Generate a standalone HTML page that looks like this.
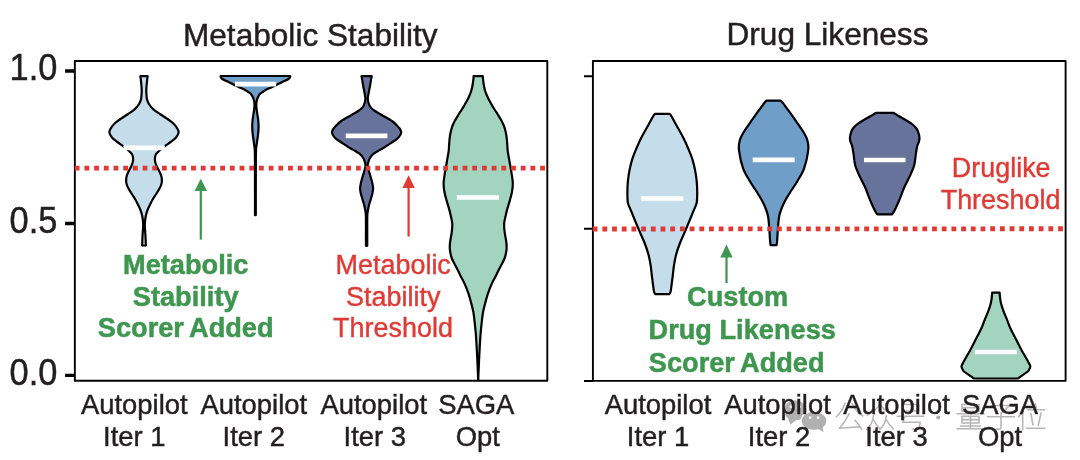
<!DOCTYPE html>
<html><head><meta charset="utf-8">
<style>
html,body{margin:0;padding:0;background:#fff;}
body{width:1080px;height:460px;overflow:hidden;font-family:"Liberation Sans",sans-serif;}
svg{display:block;will-change:transform;}
text{font-family:"Liberation Sans",sans-serif;}
.t{fill:#231f20;stroke:#231f20;stroke-width:.45;}
.g{fill:#3f9650;stroke:#3f9650;stroke-width:.5;font-weight:bold;}
.r{fill:#de3a36;stroke:#de3a36;stroke-width:.4;}
.v{stroke:#000;stroke-width:2.2;stroke-linejoin:round;}
.m{stroke:#fff;stroke-width:4.7;}
.ax{stroke:#000;stroke-width:1.9;fill:none;stroke-linejoin:round;}
</style></head><body>
<svg width="1080" height="460" viewBox="0 0 1080 460">
<rect width="1080" height="460" fill="#fff"/>

<!-- watermark -->
<g id="wm">
<g fill="#b0b0b0" stroke="none">
<ellipse cx="795.2" cy="410.4" rx="11.2" ry="10.2"/>
<path d="M787.5,416.5 L790.3,424.8 L796.5,419.5 Z"/>
<ellipse cx="814" cy="420.8" rx="13.6" ry="10.3" fill="#fff"/>
<ellipse cx="814" cy="420.8" rx="12.3" ry="9"/>
<path d="M817.5,428.5 L823.6,432 L822.3,425.5 Z"/>
<circle cx="810.2" cy="417.6" r="1.35" fill="#fff"/><circle cx="818.1" cy="417.6" r="1.35" fill="#fff"/>
<circle cx="791.3" cy="406.8" r="1.5" fill="#fff"/><circle cx="799.6" cy="406.8" r="1.5" fill="#fff"/>
<circle cx="938.2" cy="417.6" r="2"/>
</g>
<g fill="none" stroke="#b6b6b6" stroke-width="1.6" stroke-linecap="round" stroke-linejoin="round">
<g transform="translate(834.5,401)"><path d="M10.5,2.3 C8.5,8 5.5,12.5 1.6,16 M17.5,2.3 C20,8 24,12.5 28.3,15 M14.7,12.5 C12,18.5 8.5,23.5 4.9,27.2 L25,25.8 M20.5,19.2 C23,22 25.5,25.3 27.2,28.4"/></g>
<g transform="translate(865,401)"><path d="M15,2.5 C12.5,7.5 8,11.5 2.5,14 M15,2.5 C17.5,7.5 22,11.5 27.8,13.5 M8.5,14.5 C8,20 5.5,25 1.8,28.2 M8.3,18.5 C10,22 12.2,25 14.5,27.5 M21.3,14.5 C21,20 18.5,25 15,28.2 M21.2,18.5 C23,22 25.5,25.5 28.3,27.8"/></g>
<g transform="translate(895.7,401)"><path d="M7,3.5 H23 V10 H7 Z M1.5,15.3 H28 M9,15.5 L7.2,21.2 H24.5 C24.2,25 23.5,27 22.3,28.2 L16.5,27.8"/></g>
<g transform="translate(955.5,401)"><path d="M6.5,3.5 H23.5 V10.2 H6.5 Z M6.5,6.8 H23.5 M1.5,12.8 H28.5 M6.5,15.3 H23.5 V22 H6.5 Z M6.5,18.6 H23.5 M15,15.3 V27.8 M5,25 H25 M1.5,27.8 H28.5"/></g>
<g transform="translate(986,401)"><path d="M5.5,4.5 H23.5 C21,7.5 18.5,9.8 15,12 V26.5 C15,28 14,28.3 10,28 M1.5,15.8 H28.5"/></g>
<g transform="translate(1016.7,401)"><path d="M9,2.8 C7.5,8 5,12.5 1.8,16 M6,11 V28.5 M18.5,2.8 L19.5,7 M11,8.8 H27.8 M14.2,12.5 L16.3,24 M24.3,12 L21.5,24.5 M9.8,27.3 H28.3"/></g>
</g>
</g>

<!-- titles -->
<text class="t" x="310.3" y="46.3" font-size="31.6" text-anchor="middle">Metabolic Stability</text>
<text class="t" x="827.5" y="45.2" font-size="31.6" text-anchor="middle">Drug Likeness</text>

<!-- y tick labels -->
<text class="t" transform="translate(57.3,80.1) scale(.955,1.012)" font-size="36" text-anchor="end">1.0</text>
<text class="t" transform="translate(57.3,232.7) scale(.955,1.012)" font-size="36" text-anchor="end">0.5</text>
<text class="t" transform="translate(57.3,384.7) scale(.955,1.012)" font-size="36" text-anchor="end">0.0</text>

<!-- LEFT violins -->
<g id="L">
<path class="v" fill="#c5dcea" d="M147.60,76.20 C147.48,77.17 147.12,79.77 146.90,82.00 C146.68,84.23 146.37,87.43 146.30,89.60 C146.23,91.77 146.38,93.37 146.50,95.00 C146.62,96.63 146.60,97.90 147.00,99.40 C147.40,100.90 147.87,102.38 148.90,104.00 C149.93,105.62 151.37,107.43 153.20,109.10 C155.03,110.77 157.53,112.37 159.90,114.00 C162.27,115.63 165.23,117.40 167.40,118.90 C169.57,120.40 171.43,121.68 172.90,123.00 C174.37,124.32 175.33,125.63 176.20,126.80 C177.07,127.97 177.70,129.10 178.10,130.00 C178.50,130.90 178.67,131.37 178.60,132.20 C178.53,133.03 178.28,133.95 177.70,135.00 C177.12,136.05 176.27,137.33 175.10,138.50 C173.93,139.67 172.43,140.70 170.70,142.00 C168.97,143.30 166.47,144.97 164.70,146.30 C162.93,147.63 161.53,148.70 160.10,150.00 C158.67,151.30 156.93,152.93 156.10,154.10 C155.27,155.27 155.30,156.05 155.10,157.00 C154.90,157.95 154.83,158.80 154.90,159.80 C154.97,160.80 155.13,161.80 155.50,163.00 C155.87,164.20 156.40,165.50 157.10,167.00 C157.80,168.50 159.00,170.50 159.70,172.00 C160.40,173.50 160.93,174.60 161.30,176.00 C161.67,177.40 161.93,178.90 161.90,180.40 C161.87,181.90 161.55,183.57 161.10,185.00 C160.65,186.43 159.97,187.58 159.20,189.00 C158.43,190.42 157.55,191.83 156.50,193.50 C155.45,195.17 154.00,197.08 152.90,199.00 C151.80,200.92 150.79,203.17 149.90,205.00 C149.01,206.83 148.20,208.33 147.55,210.00 C146.90,211.67 146.40,213.33 146.00,215.00 C145.60,216.67 145.35,218.33 145.15,220.00 C144.95,221.67 144.82,223.33 144.80,225.00 C144.78,226.67 144.95,228.33 145.05,230.00 C145.15,231.67 145.30,233.33 145.40,235.00 C145.50,236.67 145.58,238.33 145.65,240.00 C145.72,241.67 145.82,244.08 145.85,245.00 C145.88,245.92 145.85,245.42 145.85,245.50 L142.15,245.50 C142.15,245.42 142.12,245.92 142.15,245.00 C142.18,244.08 142.28,241.67 142.35,240.00 C142.42,238.33 142.50,236.67 142.60,235.00 C142.70,233.33 142.85,231.67 142.95,230.00 C143.05,228.33 143.22,226.67 143.20,225.00 C143.18,223.33 143.05,221.67 142.85,220.00 C142.65,218.33 142.40,216.67 142.00,215.00 C141.60,213.33 141.10,211.67 140.45,210.00 C139.80,208.33 138.99,206.83 138.10,205.00 C137.21,203.17 136.20,200.92 135.10,199.00 C134.00,197.08 132.55,195.17 131.50,193.50 C130.45,191.83 129.57,190.42 128.80,189.00 C128.03,187.58 127.35,186.43 126.90,185.00 C126.45,183.57 126.13,181.90 126.10,180.40 C126.07,178.90 126.33,177.40 126.70,176.00 C127.07,174.60 127.60,173.50 128.30,172.00 C129.00,170.50 130.20,168.50 130.90,167.00 C131.60,165.50 132.13,164.20 132.50,163.00 C132.87,161.80 133.03,160.80 133.10,159.80 C133.17,158.80 133.10,157.95 132.90,157.00 C132.70,156.05 132.73,155.27 131.90,154.10 C131.07,152.93 129.33,151.30 127.90,150.00 C126.47,148.70 125.07,147.63 123.30,146.30 C121.53,144.97 119.03,143.30 117.30,142.00 C115.57,140.70 114.07,139.67 112.90,138.50 C111.73,137.33 110.88,136.05 110.30,135.00 C109.72,133.95 109.47,133.03 109.40,132.20 C109.33,131.37 109.50,130.90 109.90,130.00 C110.30,129.10 110.93,127.97 111.80,126.80 C112.67,125.63 113.63,124.32 115.10,123.00 C116.57,121.68 118.43,120.40 120.60,118.90 C122.77,117.40 125.73,115.63 128.10,114.00 C130.47,112.37 132.97,110.77 134.80,109.10 C136.63,107.43 138.07,105.62 139.10,104.00 C140.13,102.38 140.60,100.90 141.00,99.40 C141.40,97.90 141.38,96.63 141.50,95.00 C141.62,93.37 141.77,91.77 141.70,89.60 C141.63,87.43 141.32,84.23 141.10,82.00 C140.88,79.77 140.52,77.17 140.40,76.20 Z"/>
<path class="v" fill="#6f9fc8" d="M289.50,76.00 C289.62,76.03 290.18,75.90 290.20,76.20 C290.22,76.50 289.95,77.28 289.60,77.80 C289.25,78.32 289.33,78.60 288.10,79.30 C286.87,80.00 283.85,81.22 282.20,82.00 C280.55,82.78 279.53,83.33 278.20,84.00 C276.87,84.67 275.58,85.33 274.20,86.00 C272.82,86.67 271.32,87.33 269.90,88.00 C268.48,88.67 266.93,89.33 265.70,90.00 C264.47,90.67 263.47,91.33 262.50,92.00 C261.53,92.67 260.60,93.25 259.90,94.00 C259.20,94.75 258.75,95.67 258.30,96.50 C257.85,97.33 257.50,98.08 257.20,99.00 C256.90,99.92 256.65,101.00 256.50,102.00 C256.35,103.00 256.27,103.67 256.30,105.00 C256.33,106.33 256.53,108.52 256.70,110.00 C256.87,111.48 257.05,112.23 257.30,113.90 C257.55,115.57 257.98,117.72 258.20,120.00 C258.42,122.28 258.63,125.10 258.60,127.60 C258.57,130.10 258.30,132.38 258.00,135.00 C257.70,137.62 257.10,141.13 256.80,143.30 C256.50,145.47 256.33,146.72 256.20,148.00 C256.07,149.28 256.06,149.00 256.00,151.00 C255.94,153.00 255.88,153.50 255.85,160.00 C255.82,166.50 255.81,180.80 255.80,190.00 C255.79,199.20 255.80,211.00 255.80,215.20 L255.00,215.20 C255.00,211.00 255.01,199.20 255.00,190.00 C254.99,180.80 254.98,166.50 254.95,160.00 C254.92,153.50 254.86,153.00 254.80,151.00 C254.74,149.00 254.73,149.28 254.60,148.00 C254.47,146.72 254.30,145.47 254.00,143.30 C253.70,141.13 253.10,137.62 252.80,135.00 C252.50,132.38 252.23,130.10 252.20,127.60 C252.17,125.10 252.38,122.28 252.60,120.00 C252.82,117.72 253.25,115.57 253.50,113.90 C253.75,112.23 253.93,111.48 254.10,110.00 C254.27,108.52 254.47,106.33 254.50,105.00 C254.53,103.67 254.45,103.00 254.30,102.00 C254.15,101.00 253.90,99.92 253.60,99.00 C253.30,98.08 252.95,97.33 252.50,96.50 C252.05,95.67 251.60,94.75 250.90,94.00 C250.20,93.25 249.27,92.67 248.30,92.00 C247.33,91.33 246.33,90.67 245.10,90.00 C243.87,89.33 242.32,88.67 240.90,88.00 C239.48,87.33 237.98,86.67 236.60,86.00 C235.22,85.33 233.93,84.67 232.60,84.00 C231.27,83.33 230.25,82.78 228.60,82.00 C226.95,81.22 223.93,80.00 222.70,79.30 C221.47,78.60 221.55,78.32 221.20,77.80 C220.85,77.28 220.58,76.50 220.60,76.20 C220.62,75.90 221.18,76.03 221.30,76.00 Z"/>
<path class="v" fill="#67739a" d="M371.70,76.20 C371.55,77.00 371.08,79.37 370.80,81.00 C370.52,82.63 370.30,84.33 370.00,86.00 C369.70,87.67 369.32,89.33 369.00,91.00 C368.68,92.67 368.30,94.67 368.10,96.00 C367.90,97.33 367.75,97.92 367.80,99.00 C367.85,100.08 368.07,101.33 368.40,102.50 C368.73,103.67 369.23,105.00 369.80,106.00 C370.37,107.00 370.93,107.67 371.80,108.50 C372.67,109.33 373.78,110.17 375.00,111.00 C376.22,111.83 377.38,112.50 379.10,113.50 C380.82,114.50 383.03,115.67 385.30,117.00 C387.57,118.33 390.83,120.17 392.70,121.50 C394.57,122.83 395.42,123.92 396.50,125.00 C397.58,126.08 398.50,127.08 399.20,128.00 C399.90,128.92 400.37,129.77 400.70,130.50 C401.03,131.23 401.32,131.57 401.20,132.40 C401.08,133.23 400.70,134.42 400.00,135.50 C399.30,136.58 398.50,137.65 397.00,138.90 C395.50,140.15 393.17,141.55 391.00,143.00 C388.83,144.45 386.17,146.27 384.00,147.60 C381.83,148.93 379.82,149.92 378.00,151.00 C376.18,152.08 374.38,153.02 373.10,154.10 C371.82,155.18 371.02,156.40 370.30,157.50 C369.58,158.60 369.23,159.42 368.80,160.70 C368.37,161.98 367.73,163.65 367.70,165.20 C367.67,166.75 368.15,168.18 368.60,170.00 C369.05,171.82 369.82,174.10 370.40,176.10 C370.98,178.10 371.65,180.02 372.10,182.00 C372.55,183.98 373.03,186.17 373.10,188.00 C373.17,189.83 372.85,191.25 372.50,193.00 C372.15,194.75 371.53,196.67 371.00,198.50 C370.47,200.33 369.78,202.17 369.30,204.00 C368.82,205.83 368.42,207.83 368.10,209.50 C367.78,211.17 367.54,212.25 367.40,214.00 C367.26,215.75 367.27,216.50 367.25,220.00 C367.23,223.50 367.25,230.70 367.25,235.00 C367.25,239.30 367.25,244.00 367.25,245.80 L365.95,245.80 C365.95,244.00 365.95,239.30 365.95,235.00 C365.95,230.70 365.98,223.50 365.95,220.00 C365.93,216.50 365.94,215.75 365.80,214.00 C365.66,212.25 365.42,211.17 365.10,209.50 C364.78,207.83 364.38,205.83 363.90,204.00 C363.42,202.17 362.73,200.33 362.20,198.50 C361.67,196.67 361.05,194.75 360.70,193.00 C360.35,191.25 360.03,189.83 360.10,188.00 C360.17,186.17 360.65,183.98 361.10,182.00 C361.55,180.02 362.22,178.10 362.80,176.10 C363.38,174.10 364.15,171.82 364.60,170.00 C365.05,168.18 365.53,166.75 365.50,165.20 C365.47,163.65 364.83,161.98 364.40,160.70 C363.97,159.42 363.62,158.60 362.90,157.50 C362.18,156.40 361.38,155.18 360.10,154.10 C358.82,153.02 357.02,152.08 355.20,151.00 C353.38,149.92 351.37,148.93 349.20,147.60 C347.03,146.27 344.37,144.45 342.20,143.00 C340.03,141.55 337.70,140.15 336.20,138.90 C334.70,137.65 333.90,136.58 333.20,135.50 C332.50,134.42 332.12,133.23 332.00,132.40 C331.88,131.57 332.17,131.23 332.50,130.50 C332.83,129.77 333.30,128.92 334.00,128.00 C334.70,127.08 335.62,126.08 336.70,125.00 C337.78,123.92 338.63,122.83 340.50,121.50 C342.37,120.17 345.63,118.33 347.90,117.00 C350.17,115.67 352.38,114.50 354.10,113.50 C355.82,112.50 356.98,111.83 358.20,111.00 C359.42,110.17 360.53,109.33 361.40,108.50 C362.27,107.67 362.83,107.00 363.40,106.00 C363.97,105.00 364.47,103.67 364.80,102.50 C365.13,101.33 365.35,100.08 365.40,99.00 C365.45,97.92 365.30,97.33 365.10,96.00 C364.90,94.67 364.52,92.67 364.20,91.00 C363.88,89.33 363.50,87.67 363.20,86.00 C362.90,84.33 362.68,82.63 362.40,81.00 C362.12,79.37 361.65,77.00 361.50,76.20 Z"/>
<path class="v" fill="#a3d4c0" d="M482.80,76.10 C482.83,76.58 482.88,77.85 483.00,79.00 C483.12,80.15 483.30,81.67 483.50,83.00 C483.70,84.33 483.92,85.67 484.20,87.00 C484.48,88.33 484.78,89.67 485.20,91.00 C485.62,92.33 486.15,93.67 486.70,95.00 C487.25,96.33 487.92,97.83 488.50,99.00 C489.08,100.17 489.65,101.00 490.20,102.00 C490.75,103.00 491.02,103.67 491.80,105.00 C492.58,106.33 493.85,108.33 494.90,110.00 C495.95,111.67 497.07,113.33 498.10,115.00 C499.13,116.67 500.18,118.33 501.10,120.00 C502.02,121.67 502.92,123.33 503.60,125.00 C504.28,126.67 504.75,128.33 505.20,130.00 C505.65,131.67 506.02,133.33 506.30,135.00 C506.58,136.67 506.73,138.33 506.90,140.00 C507.07,141.67 507.17,143.17 507.30,145.00 C507.43,146.83 507.45,148.93 507.70,151.00 C507.95,153.07 508.32,154.60 508.80,157.40 C509.28,160.20 510.10,164.90 510.60,167.80 C511.10,170.70 511.43,172.18 511.80,174.80 C512.17,177.42 512.78,180.60 512.80,183.50 C512.82,186.40 512.42,189.30 511.90,192.20 C511.38,195.10 510.50,198.00 509.70,200.90 C508.90,203.80 507.78,207.08 507.10,209.60 C506.42,212.12 506.10,213.65 505.60,216.00 C505.10,218.35 504.25,220.97 504.10,223.70 C503.95,226.43 504.32,229.22 504.70,232.40 C505.08,235.58 506.10,239.90 506.40,242.80 C506.70,245.70 506.82,247.18 506.50,249.80 C506.18,252.42 505.57,255.60 504.50,258.50 C503.43,261.40 501.55,264.30 500.10,267.20 C498.65,270.10 497.25,273.00 495.80,275.90 C494.35,278.80 492.70,281.70 491.40,284.60 C490.10,287.50 488.93,290.58 488.00,293.30 C487.07,296.02 486.62,297.83 485.80,300.90 C484.98,303.97 483.78,308.08 483.10,311.70 C482.42,315.32 482.12,318.97 481.70,322.60 C481.28,326.23 480.90,329.88 480.60,333.50 C480.30,337.12 480.12,340.68 479.90,344.30 C479.68,347.92 479.48,351.58 479.30,355.20 C479.12,358.82 478.95,362.70 478.80,366.00 C478.65,369.30 478.48,372.68 478.40,375.00 C478.32,377.32 478.32,379.08 478.30,379.90 L478.10,379.90 C478.08,379.08 478.08,377.32 478.00,375.00 C477.92,372.68 477.75,369.30 477.60,366.00 C477.45,362.70 477.28,358.82 477.10,355.20 C476.92,351.58 476.72,347.92 476.50,344.30 C476.28,340.68 476.10,337.12 475.80,333.50 C475.50,329.88 475.12,326.23 474.70,322.60 C474.28,318.97 473.98,315.32 473.30,311.70 C472.62,308.08 471.42,303.97 470.60,300.90 C469.78,297.83 469.33,296.02 468.40,293.30 C467.47,290.58 466.30,287.50 465.00,284.60 C463.70,281.70 462.05,278.80 460.60,275.90 C459.15,273.00 457.75,270.10 456.30,267.20 C454.85,264.30 452.97,261.40 451.90,258.50 C450.83,255.60 450.22,252.42 449.90,249.80 C449.58,247.18 449.70,245.70 450.00,242.80 C450.30,239.90 451.32,235.58 451.70,232.40 C452.08,229.22 452.45,226.43 452.30,223.70 C452.15,220.97 451.30,218.35 450.80,216.00 C450.30,213.65 449.98,212.12 449.30,209.60 C448.62,207.08 447.50,203.80 446.70,200.90 C445.90,198.00 445.02,195.10 444.50,192.20 C443.98,189.30 443.58,186.40 443.60,183.50 C443.62,180.60 444.23,177.42 444.60,174.80 C444.97,172.18 445.30,170.70 445.80,167.80 C446.30,164.90 447.12,160.20 447.60,157.40 C448.08,154.60 448.45,153.07 448.70,151.00 C448.95,148.93 448.97,146.83 449.10,145.00 C449.23,143.17 449.33,141.67 449.50,140.00 C449.67,138.33 449.82,136.67 450.10,135.00 C450.38,133.33 450.75,131.67 451.20,130.00 C451.65,128.33 452.12,126.67 452.80,125.00 C453.48,123.33 454.38,121.67 455.30,120.00 C456.22,118.33 457.27,116.67 458.30,115.00 C459.33,113.33 460.45,111.67 461.50,110.00 C462.55,108.33 463.82,106.33 464.60,105.00 C465.38,103.67 465.65,103.00 466.20,102.00 C466.75,101.00 467.32,100.17 467.90,99.00 C468.48,97.83 469.15,96.33 469.70,95.00 C470.25,93.67 470.78,92.33 471.20,91.00 C471.62,89.67 471.92,88.33 472.20,87.00 C472.48,85.67 472.70,84.33 472.90,83.00 C473.10,81.67 473.28,80.15 473.40,79.00 C473.52,77.85 473.57,76.58 473.60,76.10 Z"/>
<line class="m" x1="123.4" y1="147.8" x2="164.9" y2="147.8"/>
<line class="m" x1="235" y1="84.2" x2="276.1" y2="84.2"/>
<line class="m" x1="345.7" y1="135.8" x2="387.4" y2="135.8"/>
<line class="m" x1="456.8" y1="197.5" x2="499" y2="197.5"/>
</g>

<!-- RIGHT violins -->
<g id="R">
<path class="v" fill="#c5dcea" d="M669.70,113.90 C669.87,114.08 670.15,114.15 670.70,115.00 C671.25,115.85 671.92,117.05 673.00,119.00 C674.08,120.95 675.50,123.60 677.20,126.70 C678.90,129.80 681.37,133.97 683.20,137.60 C685.03,141.23 686.67,144.88 688.20,148.50 C689.73,152.12 691.25,155.68 692.40,159.30 C693.55,162.92 694.38,166.57 695.10,170.20 C695.82,173.83 696.35,177.47 696.70,181.10 C697.05,184.73 697.20,188.38 697.20,192.00 C697.20,195.62 697.32,199.65 696.70,202.80 C696.08,205.95 694.77,207.75 693.50,210.90 C692.23,214.05 690.60,218.08 689.10,221.70 C687.60,225.32 686.05,228.97 684.50,232.60 C682.95,236.23 681.18,239.88 679.80,243.50 C678.42,247.12 677.17,250.68 676.20,254.30 C675.23,257.92 674.58,261.57 674.00,265.20 C673.42,268.83 673.15,272.47 672.70,276.10 C672.25,279.73 671.67,284.35 671.30,287.00 C670.93,289.65 670.85,290.80 670.50,292.00 C670.15,293.20 669.42,293.83 669.20,294.20 L655.40,294.20 C655.18,293.83 654.45,293.20 654.10,292.00 C653.75,290.80 653.67,289.65 653.30,287.00 C652.93,284.35 652.35,279.73 651.90,276.10 C651.45,272.47 651.18,268.83 650.60,265.20 C650.02,261.57 649.37,257.92 648.40,254.30 C647.43,250.68 646.18,247.12 644.80,243.50 C643.42,239.88 641.65,236.23 640.10,232.60 C638.55,228.97 637.00,225.32 635.50,221.70 C634.00,218.08 632.37,214.05 631.10,210.90 C629.83,207.75 628.52,205.95 627.90,202.80 C627.28,199.65 627.40,195.62 627.40,192.00 C627.40,188.38 627.55,184.73 627.90,181.10 C628.25,177.47 628.78,173.83 629.50,170.20 C630.22,166.57 631.05,162.92 632.20,159.30 C633.35,155.68 634.87,152.12 636.40,148.50 C637.93,144.88 639.57,141.23 641.40,137.60 C643.23,133.97 645.70,129.80 647.40,126.70 C649.10,123.60 650.52,120.95 651.60,119.00 C652.68,117.05 653.35,115.85 653.90,115.00 C654.45,114.15 654.73,114.08 654.90,113.90 Z"/>
<path class="v" fill="#6f9fc8" d="M780.60,100.70 C780.85,100.92 781.35,101.12 782.10,102.00 C782.85,102.88 783.90,104.38 785.10,106.00 C786.30,107.62 787.32,108.93 789.30,111.70 C791.28,114.47 794.50,118.97 797.00,122.60 C799.50,126.23 802.58,130.60 804.30,133.50 C806.02,136.40 806.62,137.65 807.30,140.00 C807.98,142.35 808.38,145.07 808.40,147.60 C808.42,150.13 807.72,153.13 807.40,155.20 C807.08,157.27 806.88,158.37 806.50,160.00 C806.12,161.63 805.60,163.33 805.10,165.00 C804.60,166.67 804.18,168.33 803.50,170.00 C802.82,171.67 801.92,173.33 801.00,175.00 C800.08,176.67 799.00,178.33 798.00,180.00 C797.00,181.67 796.07,183.33 795.00,185.00 C793.93,186.67 792.68,188.33 791.60,190.00 C790.52,191.67 789.52,193.33 788.50,195.00 C787.48,196.67 786.42,198.33 785.50,200.00 C784.58,201.67 783.75,203.33 783.00,205.00 C782.25,206.67 781.55,208.50 781.00,210.00 C780.45,211.50 780.07,212.55 779.70,214.00 C779.33,215.45 779.10,216.28 778.80,218.70 C778.50,221.12 778.15,225.23 777.90,228.50 C777.65,231.77 777.47,235.88 777.30,238.30 C777.13,240.72 777.02,241.87 776.90,243.00 C776.78,244.13 776.65,244.75 776.60,245.10 L770.60,245.10 C770.55,244.75 770.42,244.13 770.30,243.00 C770.18,241.87 770.07,240.72 769.90,238.30 C769.73,235.88 769.55,231.77 769.30,228.50 C769.05,225.23 768.70,221.12 768.40,218.70 C768.10,216.28 767.87,215.45 767.50,214.00 C767.13,212.55 766.75,211.50 766.20,210.00 C765.65,208.50 764.95,206.67 764.20,205.00 C763.45,203.33 762.62,201.67 761.70,200.00 C760.78,198.33 759.72,196.67 758.70,195.00 C757.68,193.33 756.68,191.67 755.60,190.00 C754.52,188.33 753.27,186.67 752.20,185.00 C751.13,183.33 750.20,181.67 749.20,180.00 C748.20,178.33 747.12,176.67 746.20,175.00 C745.28,173.33 744.38,171.67 743.70,170.00 C743.02,168.33 742.60,166.67 742.10,165.00 C741.60,163.33 741.08,161.63 740.70,160.00 C740.32,158.37 740.12,157.27 739.80,155.20 C739.48,153.13 738.78,150.13 738.80,147.60 C738.82,145.07 739.22,142.35 739.90,140.00 C740.58,137.65 741.18,136.40 742.90,133.50 C744.62,130.60 747.70,126.23 750.20,122.60 C752.70,118.97 755.92,114.47 757.90,111.70 C759.88,108.93 760.90,107.62 762.10,106.00 C763.30,104.38 764.35,102.88 765.10,102.00 C765.85,101.12 766.35,100.92 766.60,100.70 Z"/>
<path class="v" fill="#67739a" d="M892.70,112.80 C893.02,112.92 893.55,112.92 894.60,113.50 C895.65,114.08 897.17,115.22 899.00,116.30 C900.83,117.38 903.33,118.63 905.60,120.00 C907.87,121.37 910.80,123.08 912.60,124.50 C914.40,125.92 915.43,127.15 916.40,128.50 C917.37,129.85 917.88,131.02 918.40,132.60 C918.92,134.18 919.43,136.43 919.50,138.00 C919.57,139.57 919.18,140.63 918.80,142.00 C918.42,143.37 917.70,144.15 917.20,146.20 C916.70,148.25 916.30,151.13 915.80,154.30 C915.30,157.47 915.20,161.57 914.20,165.20 C913.20,168.83 911.43,172.47 909.80,176.10 C908.17,179.73 906.00,183.38 904.40,187.00 C902.80,190.62 901.33,194.97 900.20,197.80 C899.07,200.63 898.40,202.18 897.60,204.00 C896.80,205.82 896.10,207.28 895.40,208.70 C894.70,210.12 893.97,211.55 893.40,212.50 C892.83,213.45 892.23,214.08 892.00,214.40 L877.40,214.40 C877.17,214.08 876.57,213.45 876.00,212.50 C875.43,211.55 874.70,210.12 874.00,208.70 C873.30,207.28 872.60,205.82 871.80,204.00 C871.00,202.18 870.33,200.63 869.20,197.80 C868.07,194.97 866.60,190.62 865.00,187.00 C863.40,183.38 861.23,179.73 859.60,176.10 C857.97,172.47 856.20,168.83 855.20,165.20 C854.20,161.57 854.10,157.47 853.60,154.30 C853.10,151.13 852.70,148.25 852.20,146.20 C851.70,144.15 850.98,143.37 850.60,142.00 C850.22,140.63 849.83,139.57 849.90,138.00 C849.97,136.43 850.48,134.18 851.00,132.60 C851.52,131.02 852.03,129.85 853.00,128.50 C853.97,127.15 855.00,125.92 856.80,124.50 C858.60,123.08 861.53,121.37 863.80,120.00 C866.07,118.63 868.57,117.38 870.40,116.30 C872.23,115.22 873.75,114.08 874.80,113.50 C875.85,112.92 876.38,112.92 876.70,112.80 Z"/>
<path class="v" fill="#a3d4c0" d="M999.60,292.60 C999.65,293.17 999.70,294.37 999.90,296.00 C1000.10,297.63 1000.20,299.88 1000.80,302.40 C1001.40,304.92 1002.45,308.20 1003.50,311.10 C1004.55,314.00 1005.93,316.90 1007.10,319.80 C1008.27,322.70 1009.02,325.25 1010.50,328.50 C1011.98,331.75 1014.15,335.68 1016.00,339.30 C1017.85,342.92 1019.83,346.93 1021.60,350.20 C1023.37,353.47 1025.35,356.68 1026.60,358.90 C1027.85,361.12 1028.48,362.23 1029.10,363.50 C1029.72,364.77 1030.28,365.50 1030.30,366.50 C1030.32,367.50 1029.72,368.58 1029.20,369.50 C1028.68,370.42 1028.60,370.87 1027.20,372.00 C1025.80,373.13 1022.32,375.25 1020.80,376.30 C1019.28,377.35 1018.82,377.93 1018.10,378.30 C1017.38,378.67 1016.77,378.47 1016.50,378.50 L975.30,378.50 C975.03,378.47 974.42,378.67 973.70,378.30 C972.98,377.93 972.52,377.35 971.00,376.30 C969.48,375.25 966.00,373.13 964.60,372.00 C963.20,370.87 963.12,370.42 962.60,369.50 C962.08,368.58 961.48,367.50 961.50,366.50 C961.52,365.50 962.08,364.77 962.70,363.50 C963.32,362.23 963.95,361.12 965.20,358.90 C966.45,356.68 968.43,353.47 970.20,350.20 C971.97,346.93 973.95,342.92 975.80,339.30 C977.65,335.68 979.82,331.75 981.30,328.50 C982.78,325.25 983.53,322.70 984.70,319.80 C985.87,316.90 987.25,314.00 988.30,311.10 C989.35,308.20 990.40,304.92 991.00,302.40 C991.60,299.88 991.70,297.63 991.90,296.00 C992.10,294.37 992.15,293.17 992.20,292.60 Z"/>
<line class="m" x1="641" y1="198.5" x2="683.3" y2="198.5"/>
<line class="m" x1="752.7" y1="159.8" x2="794.7" y2="159.8"/>
<line class="m" x1="864" y1="160" x2="905.5" y2="160"/>
<line class="m" x1="974.9" y1="352" x2="1016.8" y2="352"/>
</g>

<!-- axes -->
<rect class="ax" x="74.85" y="61" width="472.45" height="319.8"/>
<rect class="ax" x="592.9" y="61" width="472.7" height="319.9"/>
<path class="ax" style="stroke-width:3.3" d="M65.1,71H74.8 M65.1,223.5H74.8 M65.1,375.3H74.8"/>
<path class="ax" style="stroke-width:2" d="M584,76.2H592.9 M584,228.7H592.9 M584,380.9H592.9"/>

<!-- dotted thresholds -->
<line x1="74.75" y1="168.15" x2="546" y2="168.1" stroke="#de3a36" stroke-width="4.9" stroke-dasharray="4.8 4.896"/>
<line x1="592.7" y1="228.95" x2="1064.5" y2="228.8" stroke="#de3a36" stroke-width="4.9" stroke-dasharray="4.8 4.896"/>

<!-- arrows -->
<g fill="#3f9650" stroke="none">
<path d="M200.8,178.8 L207,191.1 L194.6,191.1 Z"/><rect x="199.7" y="190.5" width="2.2" height="49.1"/>
<path d="M726.5,244.5 L732.7,257.6 L720.3,257.6 Z"/><rect x="725.4" y="257" width="2.2" height="26.2"/>
</g>
<g fill="#de3a36" stroke="none">
<path d="M408.6,175.2 L414.8,187.9 L402.4,187.9 Z"/><rect x="407.5" y="187.3" width="2.2" height="49.3"/>
</g>

<!-- annotation text -->
<g class="g" font-size="27.2" text-anchor="middle">
<text x="185.7" y="274.3">Metabolic</text><text x="185.7" y="305.8">Stability</text><text x="185.7" y="337.3" word-spacing="-1.5">Scorer Added</text>
<text x="737.7" y="306">Custom</text><text x="742.2" y="339">Drug Likeness</text><text x="736.7" y="371.5" word-spacing="-1.5">Scorer Added</text>
</g>
<g class="r" font-size="26.95" text-anchor="middle">
<text x="393.2" y="274.3">Metabolic</text><text x="393.2" y="305.8">Stability</text><text x="393" y="337.3">Threshold</text>
<text x="1001.2" y="177">Druglike</text><text x="1000.6" y="209.3">Threshold</text>
</g>

<!-- x tick labels -->
<g class="t" font-size="27.4" text-anchor="middle">
<text x="134.3" y="413.8">Autopilot</text><text x="134.3" y="445.8">Iter 1</text>
<text x="253.8" y="413.8">Autopilot</text><text x="253.8" y="445.8">Iter 2</text>
<text x="373.8" y="413.8">Autopilot</text><text x="374.8" y="445.8">Iter 3</text>
<text x="476.3" y="413.8">SAGA</text><text x="477.8" y="445.8">Opt</text>
<text x="658" y="413.8">Autopilot</text><text x="658" y="445.8">Iter 1</text>
<text x="777.5" y="413.8">Autopilot</text><text x="779" y="445.8">Iter 2</text>
<text x="896.5" y="413.8">Autopilot</text><text x="896.5" y="445.8">Iter 3</text>
<text x="1000" y="413.8">SAGA</text><text x="1000" y="445.8">Opt</text>
</g>
</svg>
</body></html>
